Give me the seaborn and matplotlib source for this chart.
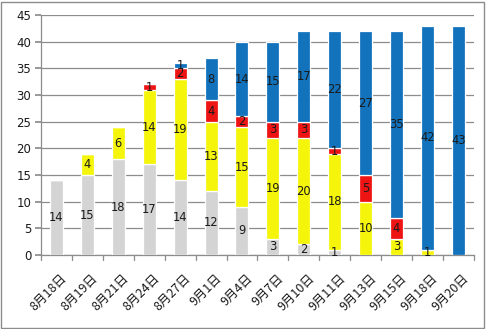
import matplotlib
matplotlib.use("Agg")
import matplotlib.pyplot as plt
import matplotlib.transforms as mtransforms
import seaborn as sns
import numpy as np
import pandas as pd
from matplotlib.patches import Rectangle

dates = ["8月18日", "8月19日", "8月21日", "8月24日", "8月27日", "9月1日", "9月4日",
         "9月7日", "9月10日", "9月11日", "9月13日", "9月15日", "9月18日", "9月20日"]
gray_vals = [14, 15, 18, 17, 14, 12, 9, 3, 2, 1, 0, 0, 0, 0]
yellow_vals = [0, 4, 6, 14, 19, 13, 15, 19, 20, 18, 10, 3, 1, 0]
red_vals = [0, 0, 0, 1, 2, 4, 2, 3, 3, 1, 5, 4, 0, 0]
blue_vals = [0, 0, 0, 0, 1, 8, 14, 15, 17, 22, 27, 35, 42, 43]
y_ticks = [0, 5, 10, 15, 20, 25, 30, 35, 40, 45]

layers = [("gray", gray_vals, "#D4D4D4"),
          ("yellow", yellow_vals, "#F5F50C"),
          ("red", red_vals, "#EE1414"),
          ("blue", blue_vals, "#1272BC")]

sns.set_theme(style="white")
plt.rcParams["font.family"] = ["Noto Sans CJK JP", "DejaVu Sans"]

fig = plt.figure(figsize=(4.86, 3.29), dpi=100)
ax = fig.add_axes([0.0844, 0.225, 0.8906, 0.729])

bottom = np.zeros(len(dates))
for name, vals, color in layers:
    df = pd.DataFrame({"date": dates, "value": vals})
    sns.barplot(data=df, x="date", y="value", color=color, bottom=bottom.copy(),
                width=0.42, edgecolor="white", linewidth=0.9, saturation=1,
                ax=ax, zorder=3)
    for i, v in enumerate(vals):
        if v > 0:
            ax.text(i, bottom[i] + v / 2, str(v), ha="center", va="center",
                    fontsize=8.3, color="#1a1a1a", zorder=5,
                    family=["DejaVu Sans"])
    bottom += np.array(vals)

ax.set_ylim(0, 45)
ax.set_xlim(-0.5, len(dates) - 0.5)
ax.set_yticks(y_ticks)
ax.set_yticklabels([str(t) for t in y_ticks], fontsize=8.5, color="#1a1a1a",
                   family=["DejaVu Sans"])
ax.yaxis.grid(True, color="#8c8c8c", linewidth=0.9)
ax.set_axisbelow(True)
ax.set_xlabel("")
ax.set_ylabel("")

# category labels, rotated
ax.set_xticks(range(len(dates)))
ax.set_xticklabels(dates, rotation=45, ha="right", rotation_mode="anchor",
                   fontsize=9, color="#1a1a1a")
ax.tick_params(axis="x", length=0, pad=12)
shift = mtransforms.ScaledTranslation(4 / 100, 0, fig.dpi_scale_trans)
for lbl in ax.get_xticklabels():
    lbl.set_transform(lbl.get_transform() + shift)
ax.tick_params(axis="y", length=4, color="#8c8c8c", direction="out", left=True, pad=3)

# tick marks between categories
for b in np.arange(-0.5, len(dates), 1.0):
    ax.plot([b, b], [0, -0.9], color="#8c8c8c", linewidth=0.9, clip_on=False, zorder=4)

for side in ["top", "right"]:
    ax.spines[side].set_visible(False)
for side in ["left", "bottom"]:
    ax.spines[side].set_color("#8c8c8c")
    ax.spines[side].set_linewidth(0.9)

fig.patches.append(Rectangle((0.003, 0.004), 0.993, 0.99, transform=fig.transFigure,
                             fill=False, edgecolor="#8c8c8c", linewidth=1.0))

fig.savefig("out.png", dpi=100)
